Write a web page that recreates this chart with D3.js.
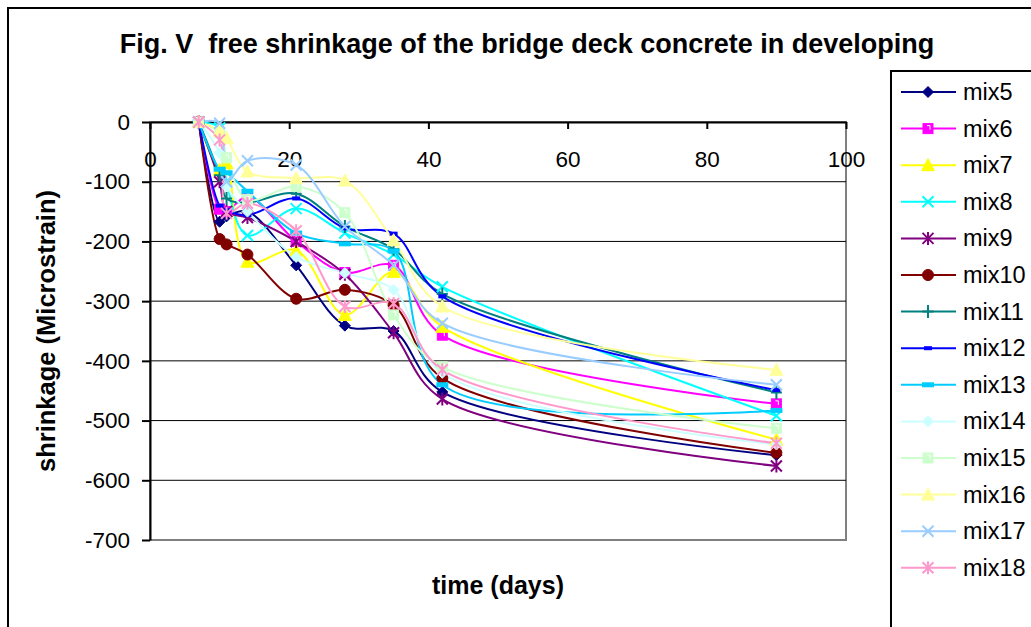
<!DOCTYPE html>
<html>
<head>
<meta charset="utf-8">
<script src="https://cdn.jsdelivr.net/npm/d3@7"></script>
<style>
  body { margin: 0; background: #fff; }
  svg { display: block; font-family: "Liberation Sans", Arial, sans-serif; }
</style>
</head>
<body>
<div id="chart"></div>
<script>
// Ages of the readings (days)
const days = [7, 10, 11, 14, 21, 28, 35, 42, 90];

// Shrinkage readings (microstrain)
const mix5  = [0, -167, -158, -150, -240, -341, -350, -452, -558];
const mix6  = [0, -146, -150, -125, -200, -252, -240, -357, -472];
const mix7  = [0, -80, -69, -234, -215, -323, -251, -343, -532];
const mix8  = [0, -10, -100, -190, -145, -186, -222, -276, -492];
const mix9  = [0, -100, -150, -160, -200, -255, -353, -464, -576];
const mix10 = [0, -196, -205, -222, -296, -281, -307, -429, -554];
const mix11 = [0, -89, -128, -135, -120, -175, -213, -288, -453];
const mix12 = [0, -140, -148, -156, -128, -178, -187, -292, -449];
const mix13 = [0, -79, -85, -116, -186, -204, -216, -440, -483];
const mix14 = [0, -52, -108, -150, -226, -253, -281, -420, -540];
const mix15 = [0, -18, -60, -130, -108, -152, -323, -410, -513];
const mix16 = [0, -15, -27, -83, -94, -98, -198, -309, -415];
const mix17 = [0, -2, -100, -65, -72, -175, -240, -337, -440];
const mix18 = [0, -30, -153, -136, -182, -309, -304, -415, -538];

const seriesNames = ['mix5', 'mix6', 'mix7', 'mix8', 'mix9', 'mix10', 'mix11',
                     'mix12', 'mix13', 'mix14', 'mix15', 'mix16', 'mix17', 'mix18'];
const seriesValues = [mix5, mix6, mix7, mix8, mix9, mix10, mix11,
                      mix12, mix13, mix14, mix15, mix16, mix17, mix18];
const colors = ['#000080', '#FF00FF', '#FFFF00', '#00FFFF', '#800080', '#800000', '#008080',
                '#0000FF', '#00CCFF', '#CCFFFF', '#CCFFCC', '#FFFF99', '#99CCFF', '#FF99CC'];
const markers = ['diamond', 'square', 'triangle', 'cross', 'star', 'circle', 'plus',
                 'dash', 'bar', 'diamond', 'square', 'triangle', 'cross', 'star'];

const xTicks = [0, 20, 40, 60, 80, 100];
const yTicks = [0, -100, -200, -300, -400, -500, -600, -700];

const width = 1031, height = 627;
const plot = {left: 150, right: 846, top: 122, bottom: 540};

const svg = d3.select('#chart').append('svg')
    .attr('width', width)
    .attr('height', height);

// Chart frame (cropped at right/bottom like the original)
svg.append('rect')
    .attr('x', 8).attr('y', 8)
    .attr('width', 1040).attr('height', 640)
    .attr('fill', '#fff')
    .attr('stroke', '#000')
    .attr('stroke-width', 2);

// Title
svg.append('text')
    .attr('x', 527).attr('y', 53)
    .attr('text-anchor', 'middle')
    .attr('font-size', '27px')
    .attr('font-weight', 'bold')
    .style('white-space', 'pre')
    .text('Fig. V  free shrinkage of the bridge deck concrete in developing');

const x = d3.scaleLinear().domain([0, 100]).range([plot.left, plot.right]);
const y = d3.scaleLinear().domain([-700, 0]).range([plot.bottom, plot.top]);

// Plot area border
svg.append('rect')
    .attr('x', plot.left).attr('y', plot.top)
    .attr('width', plot.right - plot.left).attr('height', plot.bottom - plot.top)
    .attr('fill', 'none')
    .attr('stroke', '#808080')
    .attr('stroke-width', 2);

// Grid lines
svg.append('g')
    .selectAll('line')
    .data(yTicks.filter(d => d !== 0 && d !== -700))
    .enter()
    .append('line')
    .attr('x1', plot.left)
    .attr('x2', plot.right)
    .attr('y1', d => y(d))
    .attr('y2', d => y(d))
    .attr('stroke', '#000')
    .attr('stroke-width', 1);

const tickFmt = d => String(d);

// Y axis
svg.append('g')
    .attr('transform', `translate(${plot.left},0)`)
    .call(d3.axisLeft(y).tickValues(yTicks).tickFormat(tickFmt).tickSize(8).tickSizeOuter(0).tickPadding(12))
    .call(g => g.select('.domain').attr('stroke', '#000').attr('stroke-width', 2))
    .call(g => g.selectAll('.tick line').attr('stroke', '#000').attr('stroke-width', 2))
    .call(g => g.selectAll('text').attr('font-size', '22.5px').attr('fill', '#000')
        .attr('font-family', '"Liberation Sans", Arial, sans-serif'));

// X axis at y = 0 (top), labels below the line
svg.append('g')
    .attr('transform', `translate(0,${y(0)})`)
    .call(d3.axisBottom(x).tickValues(xTicks).tickFormat(tickFmt).tickSize(7).tickSizeOuter(0).tickPadding(22))
    .call(g => g.select('.domain').attr('stroke', '#000').attr('stroke-width', 2))
    .call(g => g.selectAll('.tick line').attr('stroke', '#000').attr('stroke-width', 2))
    .call(g => g.selectAll('text').attr('font-size', '22.5px').attr('fill', '#000')
        .attr('font-family', '"Liberation Sans", Arial, sans-serif'));

// Axis titles
svg.append('text')
    .attr('transform', 'rotate(-90)')
    .attr('x', -331).attr('y', 55)
    .attr('text-anchor', 'middle')
    .attr('font-size', '25.5px')
    .attr('font-weight', 'bold')
    .text('shrinkage (Microstrain)');

svg.append('text')
    .attr('x', 498).attr('y', 594)
    .attr('text-anchor', 'middle')
    .attr('font-size', '25px')
    .attr('font-weight', 'bold')
    .text('time (days)');

// Marker drawing
function drawMarker(g, type, color) {
    const s = 5.5;
    switch (type) {
        case 'diamond':
            g.append('path').attr('d', `M0,${-s}L${s},0L0,${s}L${-s},0Z`).attr('fill', color).attr('stroke', color);
            break;
        case 'square':
            g.append('rect').attr('x', -s + 0.5).attr('y', -s + 0.5).attr('width', 2 * s - 1).attr('height', 2 * s - 1)
                .attr('fill', color).attr('stroke', color);
            g.append('path').attr('d', `M-1,-3H2V1`).attr('fill', 'none').attr('stroke', '#fff').attr('stroke-width', 1);
            break;
        case 'triangle':
            g.append('path').attr('d', `M0,${-s - 1}L${s + 1},${s}L${-s - 1},${s}Z`).attr('fill', color).attr('stroke', color);
            break;
        case 'circle':
            g.append('circle').attr('r', s).attr('fill', color).attr('stroke', color);
            break;
        case 'cross':
            g.append('path').attr('d', `M${-s},${-s}L${s},${s}M${-s},${s}L${s},${-s}`).attr('stroke', color).attr('stroke-width', 2);
            break;
        case 'star':
            g.append('path').attr('d', `M${-s},${-s}L${s},${s}M${-s},${s}L${s},${-s}M0,${-s - 1}V${s + 1}`)
                .attr('stroke', color).attr('stroke-width', 2);
            break;
        case 'plus':
            g.append('path').attr('d', `M0,${-s - 1}V${s + 1}M${-s},0H${s}`).attr('stroke', color).attr('stroke-width', 2);
            break;
        case 'dash':
            g.append('rect').attr('x', -4).attr('y', -2).attr('width', 8).attr('height', 4).attr('fill', color);
            break;
        case 'bar':
            g.append('rect').attr('x', -6).attr('y', -2.5).attr('width', 12).attr('height', 5).attr('fill', color);
            break;
    }
}

const line = d3.line()
    .x(d => x(d.day))
    .y(d => y(d.value))
    .curve(d3.curveCatmullRom.alpha(0.5));

const seriesData = seriesNames.map((name, i) => ({
    name,
    color: colors[i],
    marker: markers[i],
    values: days.map((day, j) => ({day, value: seriesValues[i][j]}))
}));

// Lines
seriesData.forEach(s => {
    svg.append('path')
        .datum(s.values)
        .attr('fill', 'none')
        .attr('stroke', s.color)
        .attr('stroke-width', 2)
        .attr('d', line);
});

// Markers
seriesData.forEach(s => {
    s.values.forEach(v => {
        const g = svg.append('g').attr('transform', `translate(${x(v.day)},${y(v.value)})`);
        drawMarker(g, s.marker, s.color);
    });
});

// Legend
const legend = svg.append('g');
legend.append('rect')
    .attr('x', 891).attr('y', 71)
    .attr('width', 200).attr('height', 600)
    .attr('fill', '#fff')
    .attr('stroke', '#000')
    .attr('stroke-width', 2);

seriesData.forEach((s, i) => {
    const ly = 92 + i * 36.6;
    const item = legend.append('g').attr('transform', `translate(0,${ly})`);
    item.append('line')
        .attr('x1', 901).attr('x2', 956)
        .attr('stroke', s.color)
        .attr('stroke-width', 2);
    const m = item.append('g').attr('transform', 'translate(928,0)');
    drawMarker(m, s.marker, s.color);
    item.append('text')
        .attr('x', 963).attr('y', 8)
        .attr('font-size', '23.5px')
        .attr('fill', '#000')
        .text(s.name);
});
</script>
</body>
</html>
